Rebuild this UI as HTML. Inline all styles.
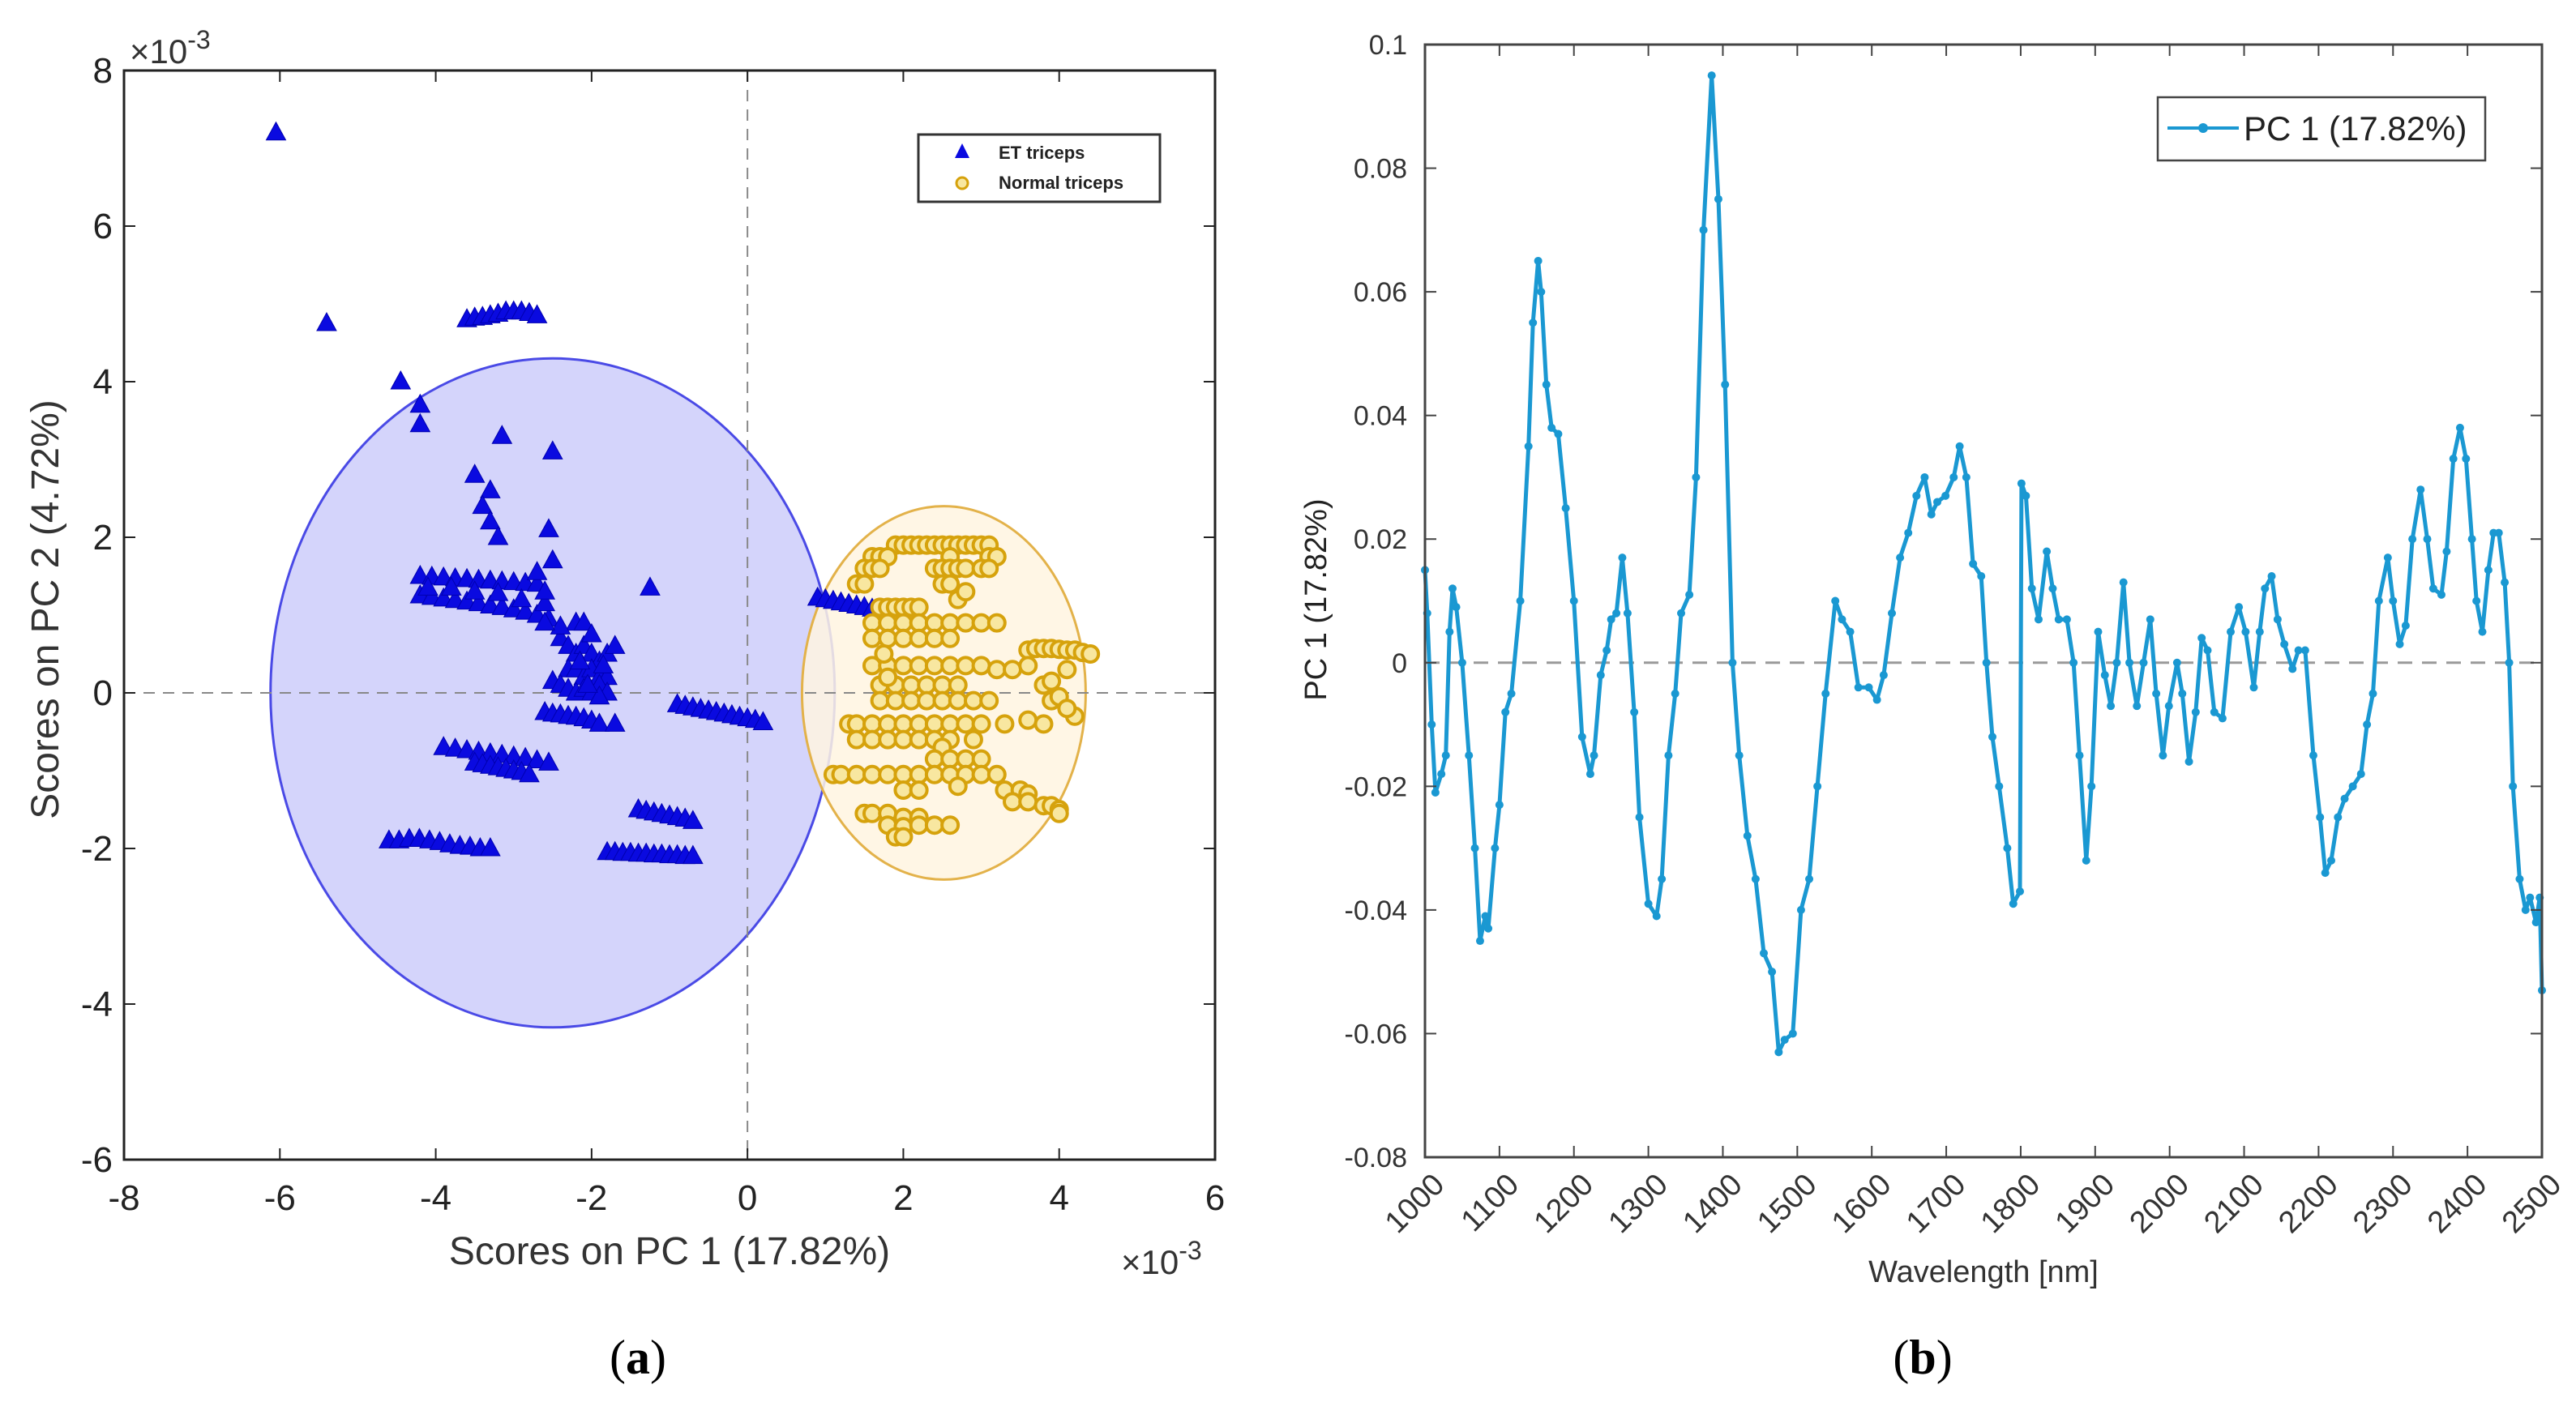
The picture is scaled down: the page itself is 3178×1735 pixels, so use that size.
<!DOCTYPE html>
<html><head><meta charset="utf-8"><style>
html,body{margin:0;padding:0;background:#fff;}
svg{display:block;font-family:"Liberation Sans",sans-serif;}
</style></head><body>
<svg id="fig" width="3178" height="1735" viewBox="0 0 3178 1735" xmlns="http://www.w3.org/2000/svg">
<g id="pa"></g>
<g id="pb"></g>
<text x="787" y="1695" font-family="Liberation Serif,serif" font-size="60" text-anchor="middle">(<tspan font-weight="bold">a</tspan>)</text>
<text x="2372" y="1695" font-family="Liberation Serif,serif" font-size="60" text-anchor="middle">(<tspan font-weight="bold">b</tspan>)</text>
</svg>
<script>
// ---------- Panel (a) data (x10^-3) ----------
const aXTicks=[-8,-6,-4,-2,0,2,4,6];
const aYTicks=[-6,-4,-2,0,2,4,6,8];
const etPoints=[[-6.05,7.2],[-5.4,4.75],[-4.45,4.0],[-4.2,3.7],[-4.2,3.45],[-3.15,3.3],[-2.5,3.1],[-3.5,2.8],[-3.3,2.6],[-3.4,2.4],[-3.3,2.2],[-3.2,2.0],[-2.55,2.1],[-2.5,1.7],[-1.25,1.35],
[-3.6,4.8],[-3.5,4.82],[-3.4,4.83],[-3.3,4.85],[-3.2,4.87],[-3.1,4.9],[-3.0,4.9],[-2.9,4.9],[-2.8,4.88],[-2.7,4.85],
[-4.2,1.5],[-4.05,1.49],[-3.9,1.48],[-3.75,1.47],[-3.6,1.46],[-3.45,1.45],[-3.3,1.44],[-3.15,1.43],[-3.0,1.42],[-2.85,1.41],[-2.7,1.4],
[-4.2,1.25],[-4.05,1.23],[-3.9,1.21],[-3.75,1.19],[-3.6,1.17],[-3.45,1.15],[-3.3,1.12],[-3.15,1.1],[-3.0,1.07],[-2.85,1.04],[-2.7,1.0],[-2.55,0.95],
[-4.1,1.35],[-3.8,1.35],[-3.5,1.3],[-3.2,1.28],[-2.9,1.2],[-2.6,1.15],[-2.7,1.55],[-2.6,1.3],
[-2.2,0.9],[-2.1,0.9],[-2.4,0.7],[-2.3,0.6],[-2.2,0.5],[-2.1,0.6],[-2.0,0.5],[-1.9,0.4],[-1.8,0.5],[-2.3,0.3],[-2.2,0.3],[-2.1,0.2],[-2.0,0.3],[-1.9,0.2],[-1.8,0.2],[-2.5,0.15],[-2.4,0.1],[-2.3,0.05],[-2.2,0.0],[-2.1,0.05],[-2.0,0.0],[-1.9,0.1],[-1.8,0.0],[-1.7,0.6],[-2.4,0.85],[-2.0,0.75],[-2.6,0.9],[-1.9,-0.05],[-2.15,0.4],[-2.05,0.1],[-1.85,0.35],
[-2.6,-0.25],[-2.5,-0.27],[-2.4,-0.28],[-2.3,-0.3],[-2.2,-0.31],[-2.1,-0.33],[-2.0,-0.36],[-1.9,-0.4],[-1.7,-0.4],
[-0.9,-0.15],[-0.8,-0.17],[-0.7,-0.19],[-0.6,-0.21],[-0.5,-0.23],[-0.4,-0.25],[-0.3,-0.27],[-0.2,-0.29],[-0.1,-0.31],[0.0,-0.33],[0.1,-0.35],[0.2,-0.38],
[-3.9,-0.7],[-3.75,-0.72],[-3.6,-0.74],[-3.45,-0.76],[-3.3,-0.78],[-3.15,-0.8],[-3.0,-0.82],[-2.85,-0.84],[-2.7,-0.87],[-2.55,-0.9],
[-3.5,-0.9],[-3.4,-0.92],[-3.3,-0.94],[-3.2,-0.96],[-3.1,-0.98],[-3.0,-1.0],[-2.9,-1.02],[-2.8,-1.05],
[-4.6,-1.9],[-4.47,-1.9],[-4.34,-1.88],[-4.21,-1.88],[-4.08,-1.9],[-3.95,-1.92],[-3.82,-1.95],[-3.69,-1.97],[-3.56,-1.98],[-3.43,-2.0],[-3.3,-2.0],
[-1.4,-1.5],[-1.3,-1.52],[-1.2,-1.54],[-1.1,-1.56],[-1.0,-1.58],[-0.9,-1.6],[-0.8,-1.62],[-0.7,-1.65],
[-1.8,-2.05],[-1.7,-2.05],[-1.6,-2.06],[-1.5,-2.06],[-1.4,-2.07],[-1.3,-2.07],[-1.2,-2.08],[-1.1,-2.08],[-1.0,-2.09],[-0.9,-2.09],[-0.8,-2.1],[-0.7,-2.1],
[0.9,1.22],[1.0,1.2],[1.1,1.18],[1.2,1.16],[1.3,1.14],[1.4,1.12],[1.5,1.1],[1.6,1.08],[1.7,1.05],[1.8,1.0]];
const normalPoints=[[1.9,1.9],[2.0,1.9],[2.1,1.9],[2.2,1.9],[2.3,1.9],[2.4,1.9],[2.5,1.9],[2.6,1.9],[2.7,1.9],[2.8,1.9],[2.9,1.9],[3.0,1.9],[3.1,1.9],
[1.6,1.75],[1.7,1.75],[1.8,1.75],[2.6,1.75],[3.1,1.75],[3.2,1.75],
[1.5,1.6],[1.6,1.6],[1.7,1.6],[2.4,1.6],[2.5,1.6],[2.6,1.6],[2.7,1.6],[2.8,1.6],[3.0,1.6],[3.1,1.6],
[1.4,1.4],[1.5,1.4],[2.5,1.4],[2.6,1.4],[2.7,1.2],[2.8,1.3],
[1.7,1.1],[1.8,1.1],[1.9,1.1],[2.0,1.1],[2.1,1.1],[2.2,1.1],
[1.6,0.9],[1.8,0.9],[2.0,0.9],[2.2,0.9],[2.4,0.9],[2.6,0.9],[2.8,0.9],[3.0,0.9],[3.2,0.9],
[1.6,0.7],[1.8,0.7],[2.0,0.7],[2.2,0.7],[2.4,0.7],[2.6,0.7],
[3.6,0.55],[3.7,0.57],[3.8,0.57],[3.9,0.57],[4.0,0.56],[4.1,0.55],[4.2,0.55],[4.3,0.52],[4.4,0.5],
[1.6,0.35],[1.8,0.35],[2.0,0.35],[2.2,0.35],[2.4,0.35],[2.6,0.35],[2.8,0.35],[3.0,0.35],[3.2,0.3],[3.4,0.3],[3.6,0.35],
[1.7,0.1],[1.9,0.1],[2.1,0.1],[2.3,0.1],[2.5,0.1],[2.7,0.1],[3.8,0.1],[3.9,0.15],
[1.7,-0.1],[1.9,-0.1],[2.1,-0.1],[2.3,-0.1],[2.5,-0.1],[2.7,-0.1],[2.9,-0.1],[3.1,-0.1],[3.9,-0.1],[4.0,-0.05],
[1.3,-0.4],[1.4,-0.4],[1.6,-0.4],[1.8,-0.4],[2.0,-0.4],[2.2,-0.4],[2.4,-0.4],[2.6,-0.4],[2.8,-0.4],[3.0,-0.4],[3.3,-0.4],[3.6,-0.35],[3.8,-0.4],
[1.4,-0.6],[1.6,-0.6],[1.8,-0.6],[2.0,-0.6],[2.2,-0.6],[2.4,-0.6],[2.6,-0.6],[2.9,-0.6],[2.5,-0.7],
[2.4,-0.85],[2.6,-0.85],[2.8,-0.85],[3.0,-0.85],
[1.1,-1.05],[1.2,-1.05],[1.4,-1.05],[1.6,-1.05],[1.8,-1.05],[2.0,-1.05],[2.2,-1.05],[2.4,-1.05],[2.6,-1.05],[2.8,-1.05],[3.0,-1.05],[3.2,-1.05],
[2.0,-1.25],[2.2,-1.25],[2.7,-1.2],[3.3,-1.25],[3.5,-1.25],[3.6,-1.3],
[3.4,-1.4],[3.6,-1.4],[3.8,-1.45],[3.9,-1.45],[4.0,-1.5],
[1.5,-1.55],[1.6,-1.55],[1.8,-1.55],[2.0,-1.6],[2.2,-1.6],[4.0,-1.55],
[1.8,-1.7],[2.0,-1.72],[2.2,-1.7],[2.4,-1.7],[2.6,-1.7],[1.9,-1.85],[2.0,-1.85],
[1.8,0.2],[1.75,0.5],[4.1,0.3],[4.2,-0.3],[4.1,-0.2]];
const etEllipse={cx:-2.5,cy:0,rx:3.62,ry:4.3};
const normalEllipse={cx:2.52,cy:0,rx:1.82,ry:2.4};

// ---------- Panel (b) data ----------
const bXTicks=[1000,1100,1200,1300,1400,1500,1600,1700,1800,1900,2000,2100,2200,2300,2400,2500];
const bYTicks=[-0.08,-0.06,-0.04,-0.02,0,0.02,0.04,0.06,0.08,0.1];
const bYTickLabels=["-0.08","-0.06","-0.04","-0.02","0","0.02","0.04","0.06","0.08","0.1"];
const wavelengths=[1000,1003,1009,1014,1022,1028,1033,1037,1042,1050,1059,1067,1074,1081,1085,1094,1100,1108,1116,1128,1139,1145,1152,1156,1163,1170,1179,1189,1200,1211,1222,1227,1236,1244,1250,1257,1265,1272,1281,1288,1300,1311,1318,1327,1336,1344,1355,1364,1374,1385,1394,1403,1413,1422,1433,1444,1455,1466,1475,1483,1494,1505,1516,1527,1538,1551,1560,1571,1582,1596,1607,1616,1627,1638,1649,1660,1671,1680,1688,1699,1710,1718,1727,1736,1747,1754,1762,1771,1782,1790,1799,1801,1807,1815,1824,1835,1843,1851,1862,1871,1879,1888,1895,1904,1913,1921,1929,1938,1946,1956,1965,1974,1982,1991,1999,2010,2017,2026,2035,2043,2051,2060,2071,2082,2093,2102,2113,2121,2128,2137,2145,2154,2165,2173,2182,2193,2202,2209,2217,2226,2235,2246,2257,2265,2273,2281,2293,2300,2309,2317,2326,2337,2346,2354,2365,2372,2381,2390,2398,2406,2412,2420,2428,2435,2442,2450,2456,2461,2470,2478,2484,2492,2497,2500];
const pc1Loadings=[0.015,0.008,-0.01,-0.021,-0.018,-0.015,0.005,0.012,0.009,0.0,-0.015,-0.03,-0.045,-0.041,-0.043,-0.03,-0.023,-0.008,-0.005,0.01,0.035,0.055,0.065,0.06,0.045,0.038,0.037,0.025,0.01,-0.012,-0.018,-0.015,-0.002,0.002,0.007,0.008,0.017,0.008,-0.008,-0.025,-0.039,-0.041,-0.035,-0.015,-0.005,0.008,0.011,0.03,0.07,0.095,0.075,0.045,0.0,-0.015,-0.028,-0.035,-0.047,-0.05,-0.063,-0.061,-0.06,-0.04,-0.035,-0.02,-0.005,0.01,0.007,0.005,-0.004,-0.004,-0.006,-0.002,0.008,0.017,0.021,0.027,0.03,0.024,0.026,0.027,0.03,0.035,0.03,0.016,0.014,0.0,-0.012,-0.02,-0.03,-0.039,-0.037,0.029,0.027,0.012,0.007,0.018,0.012,0.007,0.007,0.0,-0.015,-0.032,-0.02,0.005,-0.002,-0.007,0.0,0.013,0.0,-0.007,0.0,0.007,-0.005,-0.015,-0.007,0.0,-0.005,-0.016,-0.008,0.004,0.002,-0.008,-0.009,0.005,0.009,0.005,-0.004,0.005,0.012,0.014,0.007,0.003,-0.001,0.002,0.002,-0.015,-0.025,-0.034,-0.032,-0.025,-0.022,-0.02,-0.018,-0.01,-0.005,0.01,0.017,0.01,0.003,0.006,0.02,0.028,0.02,0.012,0.011,0.018,0.033,0.038,0.033,0.02,0.01,0.005,0.015,0.021,0.021,0.013,0.0,-0.02,-0.035,-0.04,-0.038,-0.042,-0.038,-0.053];

const NS='http://www.w3.org/2000/svg';
function mk(parent,tag,attrs,text){const e=document.createElementNS(NS,tag);for(const k in attrs)e.setAttribute(k,attrs[k]);if(text!==undefined)e.textContent=text;parent.appendChild(e);return e;}

// ---------- Panel (a) ----------
(function(){
const g=document.getElementById('pa');
const L=153,R=1499,T=87,B=1431;
const sx=v=>L+(v-(-8))/14*(R-L);
const sy=v=>B-(v-(-6))/14*(B-T);
const ux=(R-L)/14, uy=(B-T)/14;
let e;
e=mk(g,'ellipse',{cx:sx(etEllipse.cx),cy:sy(etEllipse.cy),rx:etEllipse.rx*ux,ry:etEllipse.ry*uy,fill:'#d4d4fb',stroke:'#4a4ae6','stroke-width':3});


e=mk(g,'ellipse',{cx:sx(normalEllipse.cx),cy:sy(normalEllipse.cy),rx:normalEllipse.rx*ux,ry:normalEllipse.ry*uy,fill:'#fff4e0','fill-opacity':0.85,stroke:'#e3b24a','stroke-width':3});


e=mk(g,'line',{x1:sx(0),x2:sx(0),y1:T,y2:B,stroke:'#888','stroke-width':2,'stroke-dasharray':'14 10'});


e=mk(g,'line',{x1:L,x2:R,y1:sy(0),y2:sy(0),stroke:'#888','stroke-width':2,'stroke-dasharray':'14 10'});


const ge=mk(g,'g',{});


etPoints.forEach(p=>{const x=sx(p[0]),y=sy(p[1]);
 const t=mk(ge,'polygon',{points:`${x},${y-13} ${x-12},${y+9} ${x+12},${y+9}`,fill:'#0a0ae0',stroke:'#0000b0','stroke-width':1});
 
 });
const gn=mk(g,'g',{});


normalPoints.forEach(p=>{
 const c=mk(gn,'circle',{cx:sx(p[0]),cy:sy(p[1]),r:10,fill:'#f8e7a0',stroke:'#d6a20c','stroke-width':4});
 
 });
e=mk(g,'rect',{x:L,y:T,width:R-L,height:B-T,fill:'none',stroke:'#222','stroke-width':3});


aXTicks.forEach(v=>{const x=sx(v);
 mk(g,'line',{x1:x,x2:x,y1:B,y2:B-14,stroke:'#222','stroke-width':2});
 mk(g,'line',{x1:x,x2:x,y1:T,y2:T+14,stroke:'#222','stroke-width':2});
 const t=mk(g,'text',{x:x,y:B+62,'font-size':44,'text-anchor':'middle',fill:'#222'},String(v));
 
 });
aYTicks.forEach(v=>{const y=sy(v);
 mk(g,'line',{x1:L,x2:L+14,y1:y,y2:y,stroke:'#222','stroke-width':2});
 mk(g,'line',{x1:R,x2:R-14,y1:y,y2:y,stroke:'#222','stroke-width':2});
 const t=mk(g,'text',{x:L-14,y:y+15,'font-size':44,'text-anchor':'end',fill:'#222'},String(v));
 
 });
e=mk(g,'text',{x:160,y:78,'font-size':42,fill:'#333'});
e.innerHTML='×10<tspan dy="-18" font-size="32">-3</tspan>';


e=mk(g,'text',{x:1383,y:1572,'font-size':42,fill:'#333'});
e.innerHTML='×10<tspan dy="-18" font-size="32">-3</tspan>';


e=mk(g,'text',{x:826,y:1560,'font-size':48,'text-anchor':'middle',fill:'#333'},'Scores on PC 1 (17.82%)');


e=mk(g,'text',{x:0,y:0,'font-size':48,'text-anchor':'middle',fill:'#333',transform:'translate(72,752) rotate(-90)'},'Scores on PC 2 (4.72%)');


const lg=mk(g,'g',{});


mk(lg,'rect',{x:1133,y:166,width:298,height:83,fill:'#fff',stroke:'#333','stroke-width':3});
mk(lg,'polygon',{points:'1187,177 1178,195 1196,195',fill:'#0a0ae0'});
e=mk(lg,'text',{x:1232,y:196,'font-size':22,'font-weight':'bold',fill:'#222'},'ET triceps');


mk(lg,'circle',{cx:1187,cy:226,r:7,fill:'#f8e7a0',stroke:'#d6a20c','stroke-width':3});
e=mk(lg,'text',{x:1232,y:233,'font-size':22,'font-weight':'bold',fill:'#222'},'Normal triceps');


})();

// ---------- Panel (b) ----------
(function(){
const g=document.getElementById('pb');
const L=1758,R=3136,T=55,B=1428;
const sx=v=>L+(v-1000)/1500*(R-L);
const sy=v=>B-(v-(-0.08))/0.18*(B-T);
let e;
e=mk(g,'line',{x1:L,x2:R,y1:sy(0),y2:sy(0),stroke:'#999','stroke-width':3,'stroke-dasharray':'18 12'});


const pts=wavelengths.map((w,i)=>sx(w).toFixed(1)+','+sy(pc1Loadings[i]).toFixed(1)).join(' ');
e=mk(g,'polyline',{points:pts,fill:'none',stroke:'#1a98d2','stroke-width':5,'stroke-linejoin':'round'});


const gm=mk(g,'g',{});


wavelengths.forEach((w,i)=>{const c=mk(gm,'circle',{cx:sx(w),cy:sy(pc1Loadings[i]),r:5,fill:'#1a98d2'});
 
 });
e=mk(g,'rect',{x:L,y:T,width:R-L,height:B-T,fill:'none',stroke:'#444','stroke-width':3});


bXTicks.forEach(v=>{const x=sx(v);
 mk(g,'line',{x1:x,x2:x,y1:B,y2:B-14,stroke:'#444','stroke-width':2});
 mk(g,'line',{x1:x,x2:x,y1:T,y2:T+14,stroke:'#444','stroke-width':2});
 const t=mk(g,'text',{x:0,y:0,'font-size':38,'text-anchor':'end',fill:'#333',transform:`translate(${x+26},${B+36}) rotate(-45)`},String(v));
 
 });
bYTicks.forEach((v,i)=>{const y=sy(v);
 mk(g,'line',{x1:L,x2:L+14,y1:y,y2:y,stroke:'#444','stroke-width':2});
 mk(g,'line',{x1:R,x2:R-14,y1:y,y2:y,stroke:'#444','stroke-width':2});
 const t=mk(g,'text',{x:L-22,y:y+12,'font-size':34,'text-anchor':'end',fill:'#333'},bYTickLabels[i]);
 
 });
e=mk(g,'text',{x:2447,y:1582,'font-size':38,'text-anchor':'middle',fill:'#333'},'Wavelength [nm]');


e=mk(g,'text',{x:0,y:0,'font-size':38,'text-anchor':'middle',fill:'#222',transform:'translate(1636,740) rotate(-90)'},'PC 1 (17.82%)');


const lg=mk(g,'g',{});


mk(lg,'rect',{x:2662,y:120,width:404,height:78,fill:'#fff',stroke:'#444','stroke-width':2.5});
mk(lg,'line',{x1:2674,x2:2762,y1:158,y2:158,stroke:'#1a98d2','stroke-width':4});
mk(lg,'circle',{cx:2718,cy:158,r:6,fill:'#1a98d2'});
e=mk(lg,'text',{x:2768,y:173,'font-size':42,fill:'#222'},'PC 1 (17.82%)');


})();
</script>
</body></html>
